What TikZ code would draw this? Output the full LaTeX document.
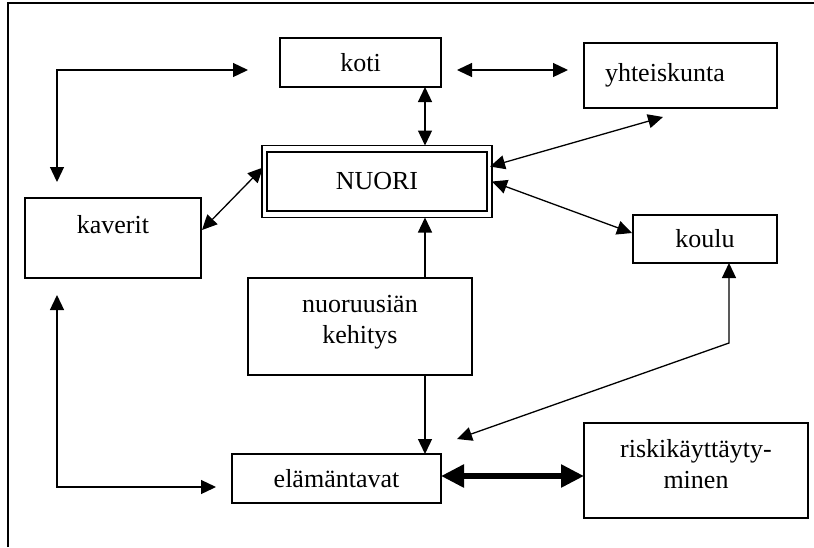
\documentclass[tikz,border=0pt]{standalone}
\usepackage{fontspec}
\setmainfont{Liberation Serif}
\usetikzlibrary{arrows.meta,fit}

\begin{document}
\begin{tikzpicture}[x=1pt,y=-1pt,
  >={Triangle[length=15pt,width=14pt]},
  box/.style={draw, line width=1.1pt, rectangle, inner sep=0pt, outer sep=0pt,
    font=\fontsize{26}{31}\selectfont, align=center},
  link/.style={line width=1.3pt},
  heavy/.style={line width=5.5pt,
    {Triangle[length=23pt,width=22pt]}-{Triangle[length=23pt,width=22pt]}}
]
\useasboundingbox (0,0) rectangle (814,547);

% outer frame
\draw[line width=1.3pt] (8,547) -- (8,3) -- (814,3);

% boxes
\node[box, minimum width=161pt, minimum height=49pt] (koti) at (360.5,62.5) {koti};
\node[box, minimum width=193pt, minimum height=65pt, text width=151pt,
      inner xsep=21pt, align=left] (yht) at (680.5,75.5) {yhteiskunta};
\node[box, line width=2.6pt, minimum width=220pt, minimum height=59pt] (nuori) at (377,181.5) {NUORI};
\node[draw, line width=1.5pt, inner xsep=5pt, inner ysep=6.5pt, outer sep=0pt, fit=(nuori)] (nuoriout) {};
\node[box, minimum width=176pt, minimum height=80pt, text depth=28pt] (kav) at (113,238) {kaverit};
\node[box, minimum width=144pt, minimum height=48pt] (koulu) at (705,239) {koulu};
\node[box, minimum width=224pt, minimum height=97pt, text depth=13.5pt] (kehitys) at (360,326.5) {nuoruusiän\\kehitys};
\node[box, minimum width=209pt, minimum height=49pt] (elam) at (336.5,478.5) {elämäntavat};
\node[box, minimum width=224pt, minimum height=95pt, text depth=14pt] (riski) at (696,470.5) {riskikäyttäyty-\\minen};

% connectors
\draw[link,<->] ([shift={(-32,7.5)}]koti.west) -| ([shift={(-56,-16)}]kav.north);
\draw[link,<->] ([shift={(-56,17)}]kav.south) |- ([shift={(-16,8.5)}]elam.west);
\draw[link,<->] ([shift={(16,7.5)}]koti.east) -- ([shift={(-16,-5.5)}]yht.west);
\draw[link,<->] ([shift={(64.5,0)}]koti.south) -- ([shift={(48,0)}]nuoriout.north);
\draw[link,<->] ([shift={(-2,-15)}]nuoriout.east) -- ([shift={(-17.5,9)}]yht.south);
\draw[link,<->] (nuoriout.east) -- ([shift={(-1,-6)}]koulu.west);
\draw[link,<->] ([shift={(1,-14)}]nuoriout.west) -- ([shift={(1,-8)}]kav.east);
\draw[link,->] ([shift={(65,0)}]kehitys.north) -- ([shift={(48,0)}]nuoriout.south);
\draw[link,->] ([shift={(65,0)}]kehitys.south) -- ([shift={(88.5,0)}]elam.north);
\draw[link,<->] ([shift={(24,0)}]koulu.south) -- ++(0,80) -- ([shift={(16,-39.5)}]elam.east);
\draw[heavy] ([shift={(0,-2.5)}]elam.east) -- ([shift={(0,5.5)}]riski.west);
\end{tikzpicture}
\end{document}
